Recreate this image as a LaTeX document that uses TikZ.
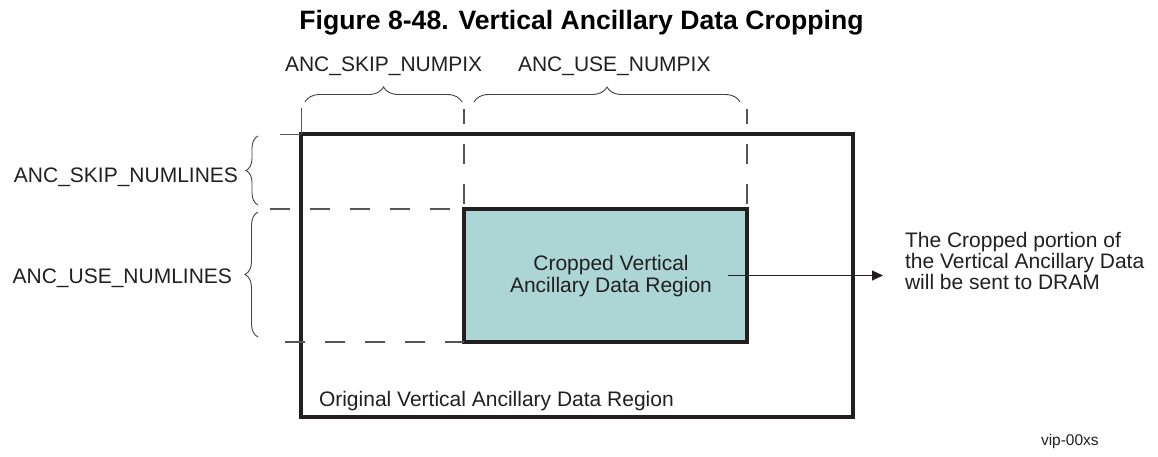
\documentclass[tikz,border=0pt]{standalone}
\usepackage{fontspec}
\setmainfont{Liberation Sans}
\usetikzlibrary{arrows.meta,decorations.pathreplacing}
\definecolor{cropfill}{HTML}{ACD6D5}
\definecolor{ink}{HTML}{231F20}
\definecolor{dashgray}{HTML}{555555}
\begin{document}
\begin{tikzpicture}[x=1pt,y=-1pt,
 lbl/.style={inner sep=0pt, outer sep=0pt, text=ink, font=\fontsize{21}{22}\selectfont},
 region/.style={draw=ink, inner sep=0pt, outer sep=0pt},
 guide/.style={draw=dashgray, line width=1.3pt, dash pattern=on 20pt off 20pt},
 ext/.style={draw=dashgray, line width=0.9pt},
 bracepath/.style={draw=ink!85, line width=0.9pt, decorate, decoration={brace, amplitude=#1}},
 bracepath/.default=12pt,
 flow/.style={draw=ink, line width=1.2pt, -{Triangle[length=11pt,width=10pt]}}
]
\useasboundingbox (0,0) rectangle (1158,456);

\node[anchor=base, inner sep=0pt, text=black, font=\bfseries\fontsize{26.6}{30}\selectfont] (title) at (581.5,29) {Figure 8-48. Vertical Ancillary Data Cropping};

% regions
\node[region, line width=3.5pt, minimum width=552pt, minimum height=283pt] (orig) at (577,275.5) {};
\node[region, line width=4.5pt, fill=cropfill, minimum width=283pt, minimum height=133pt] (crop) at (605.5,275.5) {};

% guide lines
\coordinate (vskip) at (464,109);
\coordinate (vuse) at (747,109);
\coordinate (hskip) at (270,209);
\coordinate (huse) at (285,342);
\draw[guide, dash phase=5pt] (vskip) -- (crop.north west);
\draw[guide, dash phase=5pt] (vuse) -- (crop.north east);
\draw[guide] (hskip) -- (crop.north west);
\draw[guide] (huse) -- (crop.south west);

% extension ticks at the original region's corner
\coordinate (tickv) at (301,108);
\coordinate (tickh) at (280,134);
\draw[ext] (tickv) -- (orig.north west);
\draw[ext] (tickh) -- (orig.north west);

% braces
\coordinate (b1a) at (305,102); \coordinate (b1b) at (462,102);
\coordinate (b2a) at (474,102); \coordinate (b2b) at (740,102);
\coordinate (b3a) at (258,205); \coordinate (b3b) at (258,136);
\coordinate (b4a) at (258,337); \coordinate (b4b) at (258,212);
\draw[bracepath=15pt] (b1a) -- (b1b);
\draw[bracepath=15pt] (b2a) -- (b2b);
\draw[bracepath=12pt] (b3a) -- (b3b);
\draw[bracepath=13pt] (b4a) -- (b4b);

% labels
\node[lbl, anchor=base west] (skippix) at (285,71) {ANC\_SKIP\_NUMPIX};
\node[lbl, anchor=base west] (usepix) at (518,71) {ANC\_USE\_NUMPIX};
\node[lbl, anchor=base east] (skiplines) at (238,182) {ANC\_SKIP\_NUMLINES};
\node[lbl, anchor=base east] (uselines) at (232,283) {ANC\_USE\_NUMLINES};
\node[lbl, align=center] (croptext) at (611,276.5) {Cropped Vertical\\Ancillary Data Region};
\node[lbl, anchor=base west] (origtext) at (319,406) {Original Vertical Ancillary Data Region};
\node[lbl, align=left, anchor=north west, font=\fontsize{21}{21}\selectfont] (note) at (905,232.7) {The Cropped portion of\\the Vertical Ancillary Data\\will be sent to DRAM};
\node[lbl, anchor=base west, font=\fontsize{15.5}{18}\selectfont] (vip) at (1041,445) {vip-00xs};

% arrow
\coordinate (astart) at (728,275.5);
\coordinate (aend) at (883,275.5);
\draw[flow] (astart) -- (aend);
\end{tikzpicture}
\end{document}
